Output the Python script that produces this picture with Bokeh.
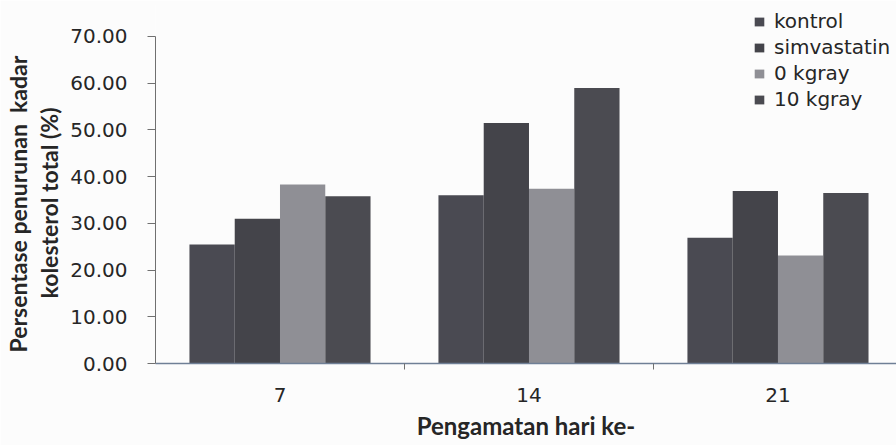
from bokeh.plotting import figure
from bokeh.models import (Range1d, FixedTicker, NumeralTickFormatter, Legend,
                          LegendItem, ColumnDataSource, Title)
from bokeh.embed import file_html
from bokeh.resources import INLINE

# Observation days and treatment groups
days = ["7", "14", "21"]
series = ["kontrol", "simvastatin", "0 kgray", "10 kgray"]

# Percentage decrease of total cholesterol (%)
kontrol = [25.5, 36.0, 26.9]
simvastatin = [31.0, 51.5, 36.9]
kgray0 = [38.3, 37.4, 23.1]
kgray10 = [35.8, 59.0, 36.5]

colors = ["#4a4a52", "#44444a", "#8f8f95", "#4b4b51"]
values = [kontrol, simvastatin, kgray0, kgray10]

ylabel_lines = ["Persentase penurunan\u00a0 kadar", "kolesterol total (%)"]

TICK_FONT = "DejaVu Sans"
TITLE_FONT = "Lato"
TEXT = "#262626"

# frame reaches the top of the canvas so the legend fits inside it;
# the value axis itself stops at 70
p = figure(width=896, height=445, output_backend="svg", toolbar_location=None,
           x_range=Range1d(0, 2.976), y_range=Range1d(0, 76.85),
           min_border_left=155, min_border_right=0, min_border_top=4,
           min_border_bottom=82, background_fill_color="#fcfcfc",
           border_fill_color="#fcfcfc", outline_line_color=None)
p.grid.visible = False

# clustered bars: 4 bars per day, gap width 150%
bar_w = 1.0 / (4 + 1.5)
centers = [i + 0.5 for i in range(len(days))]
items = []
for k, (name, vals, col) in enumerate(zip(series, values, colors)):
    xs = [c + (k - 1.5) * bar_w for c in centers]
    src = ColumnDataSource(dict(x=xs, top=vals))
    r = p.vbar(x="x", top="top", width=bar_w, bottom=0, source=src,
               fill_color=col, line_color=None)
    items.append(LegendItem(label=name, renderers=[r]))

# x axis: labels at category centres, tick marks at category boundaries
xa = p.xaxis[0]
xa.ticker = FixedTicker(ticks=centers, minor_ticks=[1, 2])
xa.major_label_overrides = {c: d for c, d in zip(centers, days)}
xa.major_tick_line_color = None
xa.minor_tick_line_color = "#707070"
xa.minor_tick_out = 6
xa.minor_tick_in = 0
xa.axis_line_color = "#6f7f96"
xa.axis_line_width = 1.5
xa.major_label_text_font = TICK_FONT
xa.major_label_text_font_size = "20px"
xa.major_label_text_color = TEXT
xa.major_label_standoff = 18
xa.axis_label = "Pengamatan hari ke-"
xa.axis_label_text_font = TITLE_FONT
xa.axis_label_text_font_size = "24px"
xa.axis_label_text_font_style = "bold"
xa.axis_label_text_color = TEXT
xa.axis_label_standoff = 6

# y axis
ya = p.yaxis[0]
ya.bounds = (0, 70)
ya.ticker = FixedTicker(ticks=[0, 10, 20, 30, 40, 50, 60, 70])
ya.formatter = NumeralTickFormatter(format="0.00")
ya.minor_tick_line_color = None
ya.major_tick_out = 8
ya.major_tick_in = 0
ya.major_tick_line_color = "#707070"
ya.axis_line_color = "#707070"
ya.major_label_text_font = TICK_FONT
ya.major_label_text_font_size = "20px"
ya.major_label_text_color = TEXT
ya.major_label_standoff = 20

# two-line value-axis title, centred on the 0-70 span
# (offset is measured from the bottom of the frame)
for line, off, va, so in [(ylabel_lines[1], 65, "top", 6),
                          (ylabel_lines[0], 11, "bottom", 0)]:
    p.add_layout(Title(text=line, align="left", offset=off, vertical_align=va,
                       standoff=so, text_font=TITLE_FONT, text_font_size="23px",
                       text_font_style="bold", text_color=TEXT), "left")

# legend sits in the top-right corner, above the plotted bars
legend = Legend(items=items, location=(598, 251),
                label_text_font=TICK_FONT, label_text_font_size="20px",
                label_text_color=TEXT, glyph_width=12, glyph_height=11,
                label_height=26, spacing=0, padding=0, margin=0,
                label_standoff=9, background_fill_alpha=0,
                border_line_color=None)
p.add_layout(legend)

open("out.html", "w").write(file_html(p, INLINE))
